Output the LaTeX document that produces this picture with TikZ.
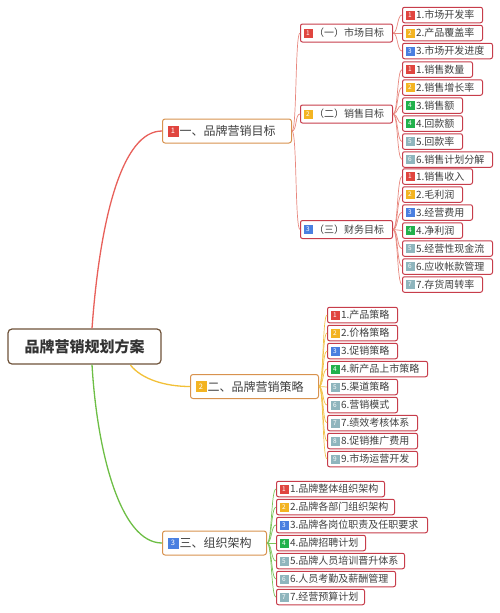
\documentclass[tikz,border=0pt]{standalone}
\usepackage{fontspec}
\newfontfamily\cjk{Noto Sans CJK SC}
\definecolor{leafred}{HTML}{C73D4B}
\definecolor{lvone}{HTML}{D8924E}
\definecolor{rootc}{HTML}{6E5239}
\definecolor{txt}{HTML}{404040}
\definecolor{bA}{HTML}{E0453F}
\definecolor{bB}{HTML}{F3B422}
\definecolor{bC}{HTML}{4A7FE0}
\definecolor{bD}{HTML}{22B14C}
\definecolor{bE}{HTML}{8FB5BD}
\definecolor{lineR}{HTML}{E8605A}
\definecolor{lineY}{HTML}{F2C037}
\definecolor{lineG}{HTML}{6DBE45}
\definecolor{subR}{HTML}{E8877E}
\definecolor{subY}{HTML}{F2C24A}
\definecolor{subG}{HTML}{7CC35A}
\newcommand\bdg[2]{\raisebox{-0.8pt}{\setlength{\fboxsep}{0pt}\colorbox{#1}{\parbox[b][9pt][c]{9pt}{\centering\color{white}\fontsize{6.5}{6.5}\selectfont #2}}}}
\newcommand\bdgL[2]{\raisebox{-1pt}{\setlength{\fboxsep}{0pt}\colorbox{#1}{\parbox[b][11pt][c]{11pt}{\centering\color{white}\fontsize{7.5}{7.5}\selectfont #2}}}}
\tikzset{
  leaf/.style={draw=leafred, line width=1pt, rounded corners=2pt, fill=white,
    inner xsep=2pt, inner ysep=0pt, minimum height=15.5pt, anchor=west, align=left,
    font=\cjk\fontsize{10}{12}\selectfont, text=txt},
  midbox/.style={leaf, minimum height=18pt},
  topbox/.style={draw=lvone, line width=1pt, rounded corners=2.5pt, fill=white,
    inner xsep=2pt, inner ysep=0pt, minimum height=24pt, anchor=west, align=left,
    font=\cjk\fontsize{12}{14}\selectfont, text=txt},
  rootbox/.style={draw=rootc, line width=1.2pt, rounded corners=4pt, fill=white,
    minimum width=153pt, minimum height=35pt, inner sep=0pt,
    font=\cjk\bfseries\fontsize{15}{17}\selectfont, text=txt!80!black},
  mainR/.style={draw=lineR, line width=1.3pt},
  mainY/.style={draw=lineY, line width=1.3pt},
  mainG/.style={draw=lineG, line width=1.3pt},
  subRl/.style={draw=subR, line width=0.7pt},
  subYl/.style={draw=subY, line width=0.7pt},
  subGl/.style={draw=subG, line width=0.7pt},
}
\newcommand\leaf[8]{% style, name, left, right, y, color, num, text
  \pgfmathsetmacro\tw{#4-#3-4}
  \node[#1, text width=\tw pt] (#2) at (#3,#5) {\mbox{\hspace{1pt}\bdg{#6}{#7}\hspace{1.5pt}#8}};}
\newcommand\topn[7]{% name, left, right, y, color, num, text
  \pgfmathsetmacro\tw{#3-#2-4}
  \node[topbox, text width=\tw pt] (#1) at (#2,#4) {\mbox{\hspace{3pt}\bdgL{#5}{#6}\hspace{1pt}#7}};}
\begin{document}
\begin{tikzpicture}[x=1pt,y=-1pt]
\useasboundingbox (0,0) rectangle (500,613);
% root
\node[rootbox] (root) at (84.5,346.5) {品牌营销规划方案};
% level 1
\topn{B1}{162}{291}{131}{bA}{1}{一、品牌营销目标}
\topn{B2}{190}{318}{386.5}{bB}{2}{二、品牌营销策略}
\topn{B3}{162}{266}{543}{bC}{3}{三、组织架构}
% level 2 under B1
\leaf{midbox}{m1}{300}{392}{33}{bA}{1}{（一）市场目标}
\leaf{midbox}{m2}{300}{392}{114}{bB}{2}{（二）销售目标}
\leaf{midbox}{m3}{300}{392}{229.5}{bC}{3}{（三）财务目标}
% leaves market
\leaf{leaf}{a1}{402}{482}{15}{bA}{1}{1.市场开发率}
\leaf{leaf}{a2}{402}{482}{33}{bB}{2}{2.产品覆盖率}
\leaf{leaf}{a3}{402}{492}{51}{bC}{3}{3.市场开发进度}
% leaves sales
\leaf{leaf}{s1}{402}{472}{69.5}{bA}{1}{1.销售数量}
\leaf{leaf}{s2}{402}{482}{87.5}{bB}{2}{2.销售增长率}
\leaf{leaf}{s3}{402}{462}{105.5}{bD}{4}{3.销售额}
\leaf{leaf}{s4}{402}{462}{123.5}{bD}{4}{4.回款额}
\leaf{leaf}{s5}{402}{462}{141.5}{bE}{5}{5.回款率}
\leaf{leaf}{s6}{402}{492}{159.5}{bE}{6}{6.销售计划分解}
% leaves finance
\leaf{leaf}{f1}{402}{472}{176.5}{bA}{1}{1.销售收入}
\leaf{leaf}{f2}{402}{462}{194.5}{bB}{2}{2.毛利润}
\leaf{leaf}{f3}{402}{472}{212.5}{bC}{3}{3.经营费用}
\leaf{leaf}{f4}{402}{462}{230.5}{bD}{4}{4.净利润}
\leaf{leaf}{f5}{402}{492}{248.5}{bE}{5}{5.经营性现金流}
\leaf{leaf}{f6}{402}{492}{266.5}{bE}{6}{6.应收帐款管理}
\leaf{leaf}{f7}{402}{482}{284.5}{bE}{7}{7.存货周转率}
% leaves strategy
\leaf{leaf}{p1}{327}{397}{315}{bA}{1}{1.产品策略}
\leaf{leaf}{p2}{327}{397}{333}{bB}{2}{2.价格策略}
\leaf{leaf}{p3}{327}{397}{351}{bC}{3}{3.促销策略}
\leaf{leaf}{p4}{327}{427}{369}{bD}{4}{4.新产品上市策略}
\leaf{leaf}{p5}{327}{397}{387}{bE}{5}{5.渠道策略}
\leaf{leaf}{p6}{327}{397}{405}{bE}{6}{6.营销模式}
\leaf{leaf}{p7}{327}{417}{423}{bE}{7}{7.绩效考核体系}
\leaf{leaf}{p8}{327}{417}{441}{bE}{8}{8.促销推广费用}
\leaf{leaf}{p9}{327}{417}{459}{bE}{9}{9.市场运营开发}
% leaves organisation
\leaf{leaf}{o1}{276}{384}{489}{bA}{1}{1.品牌整体组织架构}
\leaf{leaf}{o2}{276}{394}{507}{bB}{2}{2.品牌各部门组织架构}
\leaf{leaf}{o3}{276}{427}{525}{bC}{3}{3.品牌各岗位职责及任职要求}
\leaf{leaf}{o4}{276}{365}{543}{bD}{4}{4.品牌招聘计划}
\leaf{leaf}{o5}{276}{404}{561}{bE}{5}{5.品牌人员培训晋升体系}
\leaf{leaf}{o6}{276}{395}{579}{bE}{6}{6.人员考勤及薪酬管理}
\leaf{leaf}{o7}{276}{364}{597}{bE}{7}{7.经营预算计划}
% main connectors
\draw[mainR] ([xshift=7.5pt]root.north) .. controls +(8,-110) and +(-40,0) .. (B1.west);
\draw[mainY] ([xshift=46pt,yshift=-0.5pt]root.south) .. controls +(11,14) and +(-25,0) .. (B2.west);
\draw[mainG] ([xshift=7.5pt]root.south) .. controls +(5,86) and +(-42,0) .. (B3.west);
% sub connectors
\foreach \c in {m1,m2,m3} \draw[subRl] (B1.east) .. controls +(5,0) and +(-5,0) .. (\c.west);
\foreach \c in {a1,a2,a3} \draw[subRl] (m1.east) .. controls +(5,0) and +(-5,0) .. (\c.west);
\foreach \c in {s1,s2,s3,s4,s5,s6} \draw[subRl] (m2.east) .. controls +(5,0) and +(-5,0) .. (\c.west);
\foreach \c in {f1,f2,f3,f4,f5,f6,f7} \draw[subRl] (m3.east) .. controls +(5,0) and +(-5,0) .. (\c.west);
\foreach \c in {p1,p2,p3,p4,p5,p6,p7,p8,p9} \draw[subYl] (B2.east) .. controls +(4.5,0) and +(-4.5,0) .. (\c.west);
\foreach \c in {o1,o2,o3,o4,o5,o6,o7} \draw[subGl] (B3.east) .. controls +(5,0) and +(-5,0) .. (\c.west);
\end{tikzpicture}
\end{document}
